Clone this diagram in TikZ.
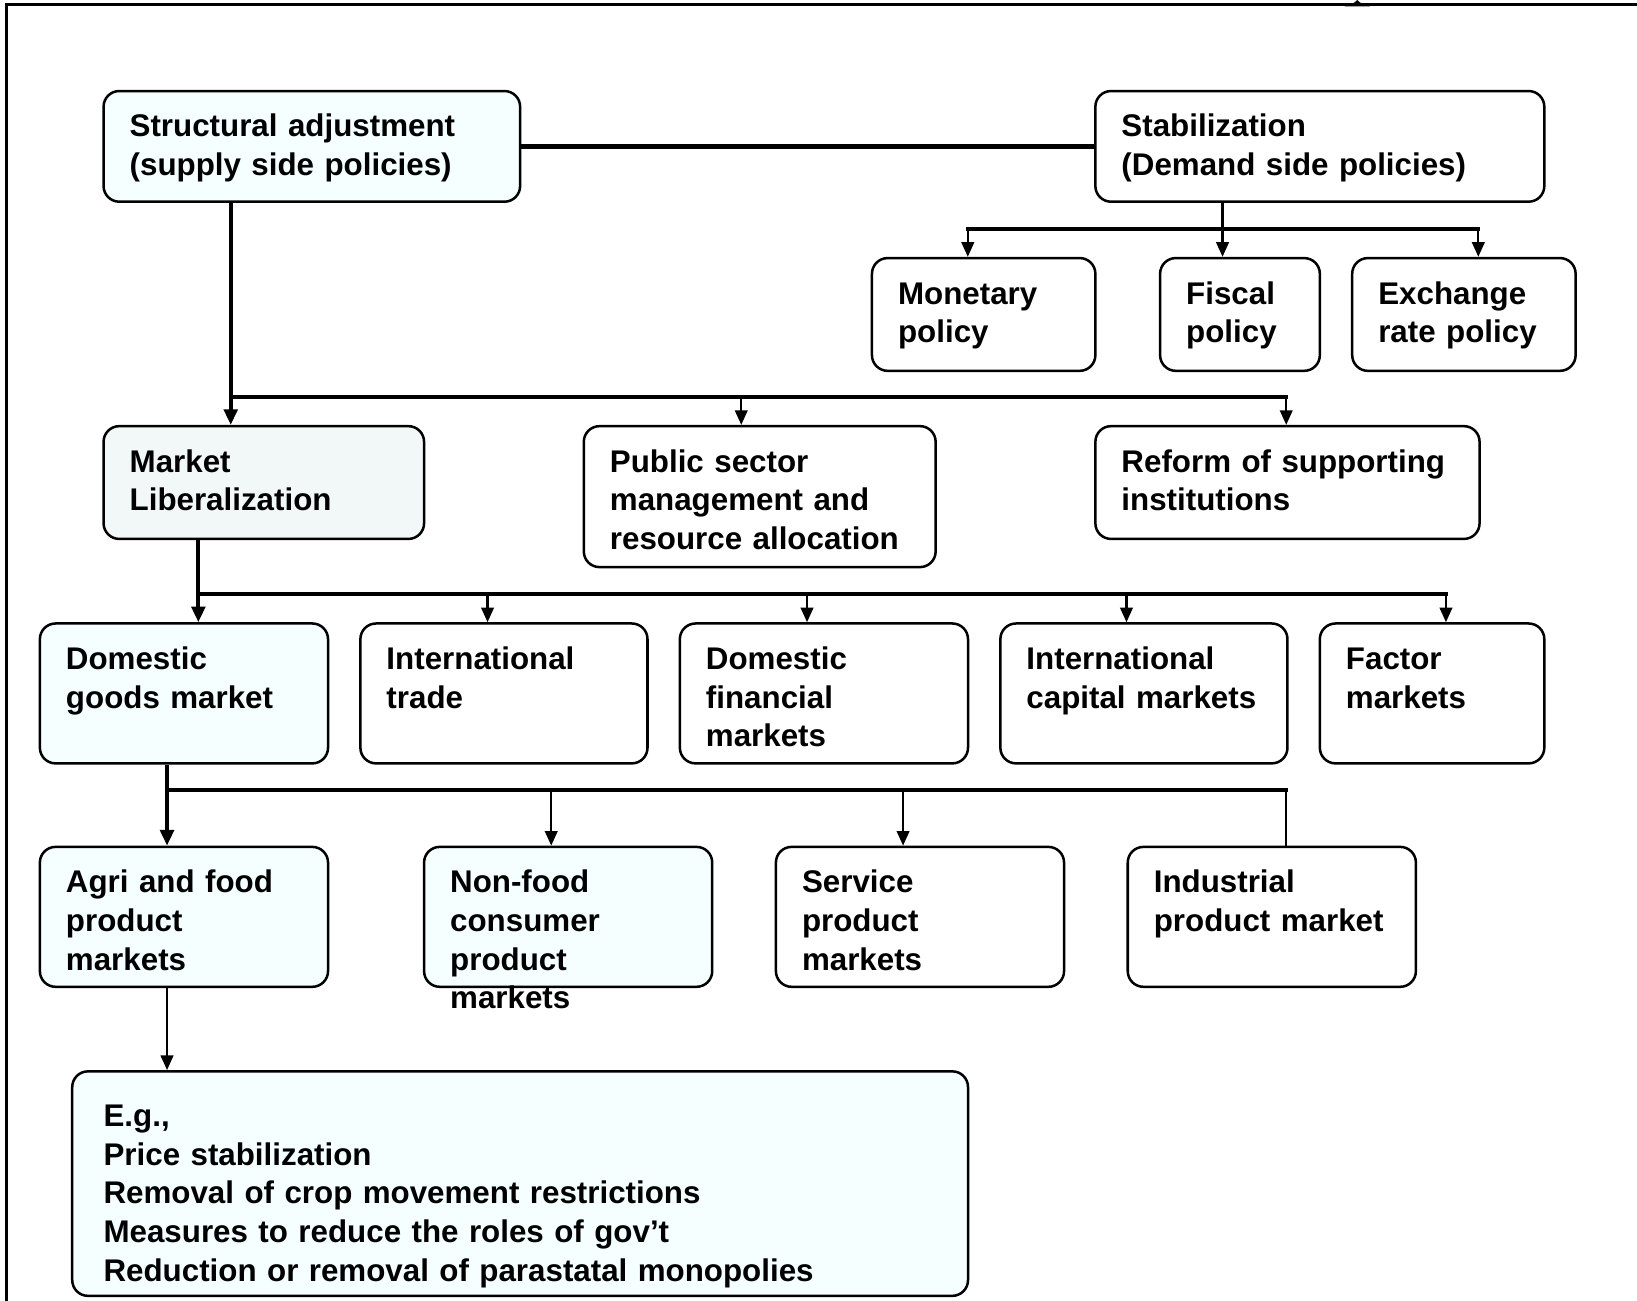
\documentclass[tikz,border=0pt]{standalone}
\usepackage{fontspec}
\setmainfont{Liberation Sans}
\usetikzlibrary{arrows.meta}
\definecolor{lcyan}{RGB}{245,255,255}
\definecolor{lgrey}{RGB}{242,248,248}

\begin{document}
\begin{tikzpicture}[x=0.5pt, y=-0.5pt,
    every node/.style={font=\bfseries\fontsize{15pt}{18.5pt}\selectfont},
    pbox/.style={draw, line width=1.2pt, rounded corners=7.5pt, anchor=north west,
        align=left, inner xsep=12.5pt, inner ysep=0pt, text height=22pt},
    pboxc/.style={pbox, fill=lcyan},
    bar/.style={line width=1.8pt, line cap=rect},
    trunk/.style={line width=1.8pt, -{Triangle[length=7.5pt, width=6.5pt]}},
    stem/.style={line width=1.1pt, -{Triangle[length=7pt, width=6pt]}}]
    \useasboundingbox (0,0) rectangle (1568,1246);

    % Frame
    \draw[line width=1.3pt] (6,1246) -- (6,4.5) -- (1568,4.5);
    \fill (1288,6) .. controls (1295,5) and (1298,2) .. (1300,0) .. controls (1302,2) and (1305,5) .. (1312,6) -- cycle;

    % Nodes
    \node[pboxc, text width=174.5pt, text depth=31pt] (sa) at (98,86) {Structural adjustment\\(supply side policies)};
    \node[pbox, text width=190pt, text depth=31pt] (stab) at (1048,86) {Stabilization\\(Demand side policies)};

    \node[pbox, text width=82pt, text depth=32pt] (mon) at (834,246) {Monetary\\policy};
    \node[pbox, text width=51.5pt, text depth=32pt] (fis) at (1110,246) {Fiscal\\policy};
    \node[pbox, text width=82pt, text depth=32pt] (exch) at (1294,246) {Exchange\\rate policy};

    \node[pbox, fill=lgrey, text width=128.5pt, text depth=32pt] (ml) at (98,407) {Market\\Liberalization};
    \node[pbox, text width=143.5pt, text depth=45.5pt] (pub) at (558,407) {Public sector\\management and\\resource allocation};
    \node[pbox, text width=159pt, text depth=32pt] (ref) at (1048,407) {Reform of supporting\\institutions};

    \node[pboxc, text width=113pt, text depth=45pt] (dg) at (37,596) {Domestic\\goods market};
    \node[pbox, text width=112.5pt, text depth=45pt] (it) at (344,596) {International\\trade};
    \node[pbox, text width=113pt, text depth=45pt] (dfm) at (650,596) {Domestic\\financial\\markets};
    \node[pbox, text width=112.5pt, text depth=45pt] (icm) at (957,596) {International\\capital markets};
    \node[pbox, text width=82.5pt, text depth=45pt] (fac) at (1263,596) {Factor\\markets};

    \node[pboxc, text width=113pt, text depth=45pt] (agri) at (37,810) {Agri and food\\product\\markets};
    \node[pboxc, text width=113pt, text depth=45pt] (nonf) at (405,810) {Non-food\\consumer\\product\\markets};
    \node[pbox, text width=113pt, text depth=45pt] (serv) at (742,810) {Service\\product\\markets};
    \node[pbox, text width=113pt, text depth=45pt] (ind) at (1079,810) {Industrial\\product market};

    \node[pboxc, inner xsep=15pt, text width=399pt, text height=26.5pt, text depth=81pt] (eg) at (68,1025)
        {E.g.,\\Price stabilization\\Removal of crop movement restrictions\\Measures to reduce the roles of gov’t\\Reduction or removal of parastatal monopolies};

    % Junctions
    \coordinate (s1) at (927,219);
    \coordinate (s2) at (1171,219);
    \coordinate (s3) at (1416,219);
    \coordinate (a1) at (221,380);
    \coordinate (a2) at (710,380);
    \coordinate (a3) at (1232,380);
    \coordinate (m1) at (190,569);
    \coordinate (m2) at (467,569);
    \coordinate (m3) at (773,569);
    \coordinate (m4) at (1079,569);
    \coordinate (m5) at (1385,569);
    \coordinate (d1) at (160,757);
    \coordinate (d2) at (528,757);
    \coordinate (d3) at (865,757);
    \coordinate (d4) at (1232,757);

    % Stabilization branch
    \draw[line width=2.2pt] (sa) -- (stab);
    \draw[bar] (s1) -- (s3);
    \draw[stem] (stab.south -| s2) -- (s2 |- fis.north);
    \draw[stem] (s1) -- (s1 |- mon.north);
    \draw[stem] (s3) -- (s3 |- exch.north);

    % Structural adjustment branch
    \draw[trunk] (sa.south -| a1) -- (a1 |- ml.north);
    \draw[bar] (a1) -- (a3);
    \draw[stem] (a2) -- (a2 |- pub.north);
    \draw[stem] (a3) -- (a3 |- ref.north);

    % Market liberalization branch
    \draw[trunk] (ml.south -| m1) -- (m1 |- dg.north);
    \draw[bar] (m1) -- (m5);
    \foreach \j/\k in {m2/it, m3/dfm, m4/icm, m5/fac}
        \draw[stem] (\j) -- (\j |- \k.north);

    % Domestic goods branch
    \draw[trunk] (dg.south -| d1) -- (d1 |- agri.north);
    \draw[bar] (d1) -- (d4);
    \draw[stem] (d2) -- (d2 |- nonf.north);
    \draw[stem] (d3) -- (d3 |- serv.north);
    \draw[line width=1.1pt] (d4) -- (d4 |- ind.north);
    \draw[stem] (agri.south -| d1) -- (d1 |- eg.north);
\end{tikzpicture}
\end{document}
